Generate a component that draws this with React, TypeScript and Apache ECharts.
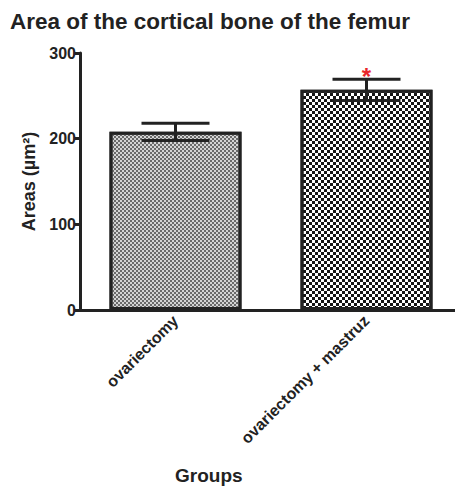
import React, { useEffect, useRef } from "react";
import * as echarts from "echarts";

const categories = ["ovariectomy", "ovariectomy + mastruz"];
const means = [208, 257];
const sem = [10, 12.5];
const significance = ["", "*"];
const yTicks = [0, 100, 200, 300];

export default function App() {
  const ref = useRef<HTMLDivElement>(null);
  useEffect(() => {
    if (!ref.current) return;
    const chart = echarts.init(ref.current, null, { renderer: "svg" });
    const dark = "#222222";
    const font = "'Liberation Sans', Arial, sans-serif";
    const decals = [
      {
        symbol: "rect",
        symbolSize: 1,
        color: "#6a6a6a",
        dashArrayX: [[2, 2], [0, 2, 2, 0]],
        dashArrayY: [2, 0],
        rotation: 0,
      },
      {
        symbol: "rect",
        symbolSize: 1,
        color: "#151515",
        dashArrayX: [[3, 3], [0, 3, 3, 0]],
        dashArrayY: [3, 0],
        rotation: 0,
      },
    ];
    const baseColors = ["#d4d4d4", "#ffffff"];
    chart.setOption({
      animation: false,
      title: {
        text: "Area of the cortical bone of the femur",
        left: 5,
        top: 5,
        textStyle: { fontFamily: font, fontSize: 22.5, fontWeight: "bold", color: dark },
      },
      grid: { left: 80, right: 1, top: 53, bottom: 176, containLabel: false },
      xAxis: {
        type: "category",
        data: categories,
        axisLine: { lineStyle: { color: dark, width: 3 } },
        axisTick: { alignWithLabel: true, length: 5, lineStyle: { color: dark, width: 3 } },
        axisLabel: {
          rotate: 45,
          margin: 8,
          fontFamily: font,
          fontSize: 16,
          fontWeight: "bold",
          color: dark,
        },
      },
      yAxis: {
        type: "value",
        min: 0,
        max: 300,
        interval: 100,
        name: "Areas (µm²)",
        nameLocation: "middle",
        nameGap: 38,
        nameTextStyle: { fontFamily: font, fontSize: 18, fontWeight: "bold", color: dark },
        axisLine: { show: true, lineStyle: { color: dark, width: 3 } },
        axisTick: { show: true, length: 5, lineStyle: { color: dark, width: 3 } },
        splitLine: { show: false },
        axisLabel: {
          margin: 4,
          fontFamily: font,
          fontSize: 16,
          fontWeight: "bold",
          color: dark,
          formatter: (v: number) => (yTicks.includes(v) ? String(v) : ""),
        },
      },
      graphic: [
        {
          type: "text",
          left: 208 - 33,
          top: 466,
          style: { text: "Groups", fontFamily: font, fontSize: 19, fontWeight: "bold", fill: dark },
        },
      ],
      series: [
        {
          type: "bar",
          barWidth: 132,
          data: means.map((v, i) => ({
            value: v,
            itemStyle: {
              color: baseColors[i],
              borderColor: dark,
              borderWidth: 3,
              decal: decals[i],
            },
          })),
          z: 2,
        },
        {
          type: "custom",
          z: 5,
          data: means.map((m, i) => [i, m - sem[i], m + sem[i]]),
          renderItem: (params: any, api: any) => {
            const idx = api.value(0);
            const lo = api.coord([idx, api.value(1)]);
            const hi = api.coord([idx, api.value(2)]);
            const half = 34;
            const style = { stroke: dark, lineWidth: 3 };
            const children: any[] = [
              { type: "line", shape: { x1: hi[0], y1: hi[1], x2: hi[0], y2: lo[1] }, style },
              { type: "line", shape: { x1: hi[0] - half, y1: hi[1], x2: hi[0] + half, y2: hi[1] }, style },
              { type: "line", shape: { x1: lo[0] - half, y1: lo[1], x2: lo[0] + half, y2: lo[1] }, style },
            ];
            const sig = significance[params.dataIndex];
            if (sig) {
              children.push({
                type: "text",
                x: hi[0],
                y: hi[1] - 3,
                style: {
                  text: sig,
                  fill: "#e8262b",
                  fontFamily: font,
                  fontSize: 24,
                  fontWeight: "bold",
                  align: "center",
                  verticalAlign: "middle",
                },
              });
            }
            return { type: "group", children };
          },
        },
      ],
    });
    return () => chart.dispose();
  }, []);
  return <div ref={ref} style={{ width: 463, height: 486, marginLeft: -8, marginTop: -8 }} />;
}
